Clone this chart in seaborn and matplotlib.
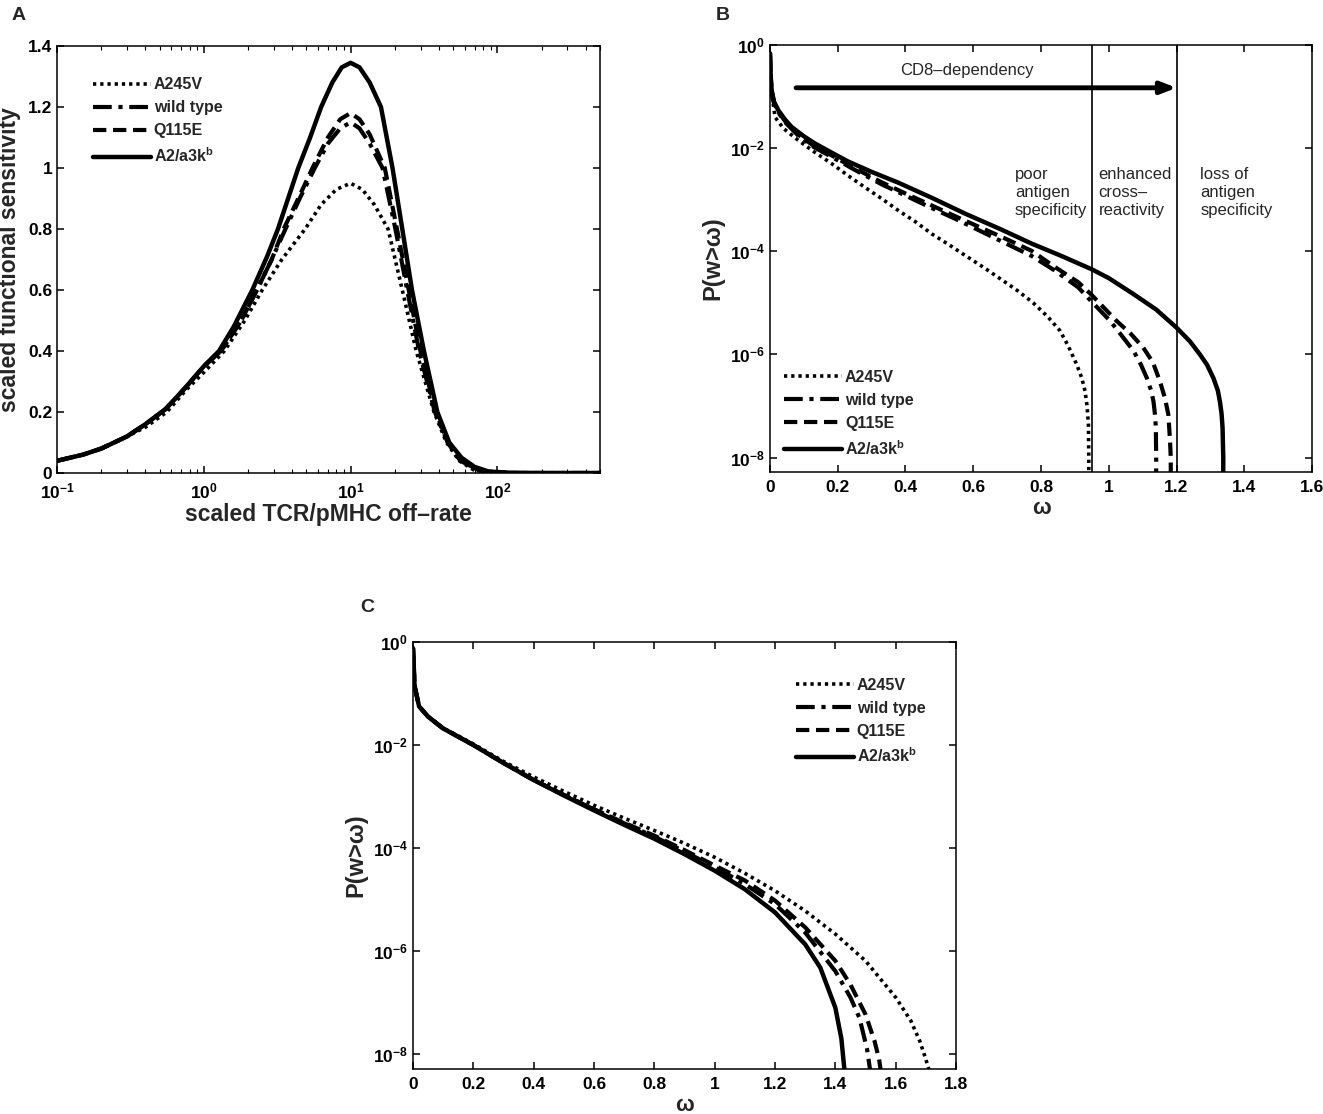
import matplotlib
matplotlib.use("Agg")
import matplotlib.pyplot as plt
from matplotlib.ticker import FuncFormatter, NullLocator, LogLocator
import numpy as np
import pandas as pd
import seaborn as sns

# ---- panel A: scaled functional sensitivity vs scaled off-rate ----
a_a245v_x = [0.1, 0.15, 0.2, 0.3, 0.4, 0.56, 0.75, 1.0, 1.38, 1.9, 2.5, 3.4, 4.9, 6.3, 8, 10,
             12, 14.5, 18, 22.5, 28, 37, 45, 55, 69, 100, 200, 500]
a_a245v_y = [0.04, 0.06, 0.08, 0.12, 0.15, 0.2, 0.27, 0.33, 0.4, 0.5, 0.6, 0.7, 0.8, 0.88, 0.93, 0.95,
             0.93, 0.88, 0.8, 0.6, 0.4, 0.2, 0.1, 0.04, 0.01, 0, 0, 0]
a_wt_x = [0.1, 0.15, 0.2, 0.3, 0.4, 0.55, 0.75, 1.0, 1.31, 1.8, 2.3, 2.9, 3.6, 4.5, 5.7, 7, 8.5, 10,
          11.5, 13.5, 16.5, 20.2, 24.3, 29.3, 37.5, 46, 56, 78, 120, 200, 500]
a_wt_y = [0.04, 0.06, 0.08, 0.12, 0.16, 0.21, 0.28, 0.35, 0.4, 0.5, 0.6, 0.7, 0.8, 0.9, 1.0, 1.08, 1.13, 1.15,
          1.13, 1.08, 1.0, 0.8, 0.6, 0.4, 0.2, 0.1, 0.04, 0.005, 0, 0, 0]
a_q115e_x = [0.1, 0.15, 0.2, 0.3, 0.4, 0.55, 0.75, 1.0, 1.31, 1.8, 2.3, 2.9, 3.5, 4.4, 5.5, 7, 8.5, 10,
             11.5, 13.5, 17.1, 20.7, 24.9, 29.9, 38, 46, 56, 78, 120, 200, 500]
a_q115e_y = [0.04, 0.06, 0.08, 0.12, 0.16, 0.21, 0.28, 0.35, 0.4, 0.5, 0.6, 0.7, 0.8, 0.9, 1.0, 1.1, 1.16, 1.18,
             1.16, 1.11, 1.0, 0.8, 0.6, 0.4, 0.2, 0.1, 0.04, 0.005, 0, 0, 0]
a_a2_x = [0.1, 0.15, 0.2, 0.3, 0.4, 0.55, 0.75, 1.0, 1.27, 1.6, 2.14, 2.7, 3.2, 4.4, 5.3, 6.3, 7.5, 8.7, 10,
          11.5, 13.5, 16.1, 19.3, 22.5, 26.2, 31.6, 39, 47, 57, 70, 87, 120, 200, 500]
a_a2_y = [0.04, 0.06, 0.08, 0.12, 0.16, 0.21, 0.28, 0.35, 0.40, 0.48, 0.60, 0.71, 0.80, 1.0, 1.10, 1.20, 1.28, 1.33, 1.345,
          1.33, 1.28, 1.20, 1.0, 0.80, 0.60, 0.40, 0.20, 0.10, 0.05, 0.02, 0.005, 0.001, 0, 0]

# ---- panel B: P(w > omega), log10 values ----
b_a245v_w = [0, 0.002, 0.005, 0.015, 0.04, 0.084, 0.13, 0.182, 0.23, 0.28, 0.33, 0.379, 0.43, 0.477, 0.53,
             0.576, 0.63, 0.679, 0.73, 0.777, 0.82, 0.856, 0.88, 0.905, 0.92, 0.93, 0.936, 0.94, 0.941, 0.941]
b_a245v_lg = [-0.16, -0.62, -0.92, -1.4, -1.62, -1.85, -2.07, -2.30, -2.53, -2.76, -2.98, -3.21, -3.43, -3.66, -3.88,
              -4.08, -4.31, -4.53, -4.76, -5.0, -5.27, -5.54, -5.83, -6.19, -6.45, -6.71, -7.0, -7.36, -8.0, -10]
b_wt_w = [0, 0.002, 0.005, 0.012, 0.025, 0.045, 0.084, 0.13, 0.182, 0.25, 0.329, 0.4, 0.477, 0.55, 0.625, 0.7,
          0.772, 0.84, 0.91, 0.95, 1.004, 1.04, 1.073, 1.095, 1.112, 1.125, 1.132, 1.137, 1.139, 1.14, 1.14]
b_wt_lg = [-0.16, -0.6, -0.9, -1.13, -1.31, -1.5, -1.76, -1.98, -2.17, -2.42, -2.7, -2.92, -3.16, -3.38, -3.62, -3.86,
           -4.09, -4.37, -4.7, -4.98, -5.35, -5.65, -5.93, -6.2, -6.45, -6.7, -6.91, -7.2, -7.43, -8.0, -10]
b_q115e_w = [0, 0.002, 0.005, 0.012, 0.025, 0.045, 0.084, 0.13, 0.182, 0.25, 0.329, 0.4, 0.477, 0.55, 0.625, 0.7,
             0.772, 0.84, 0.91, 0.95, 1.023, 1.065, 1.102, 1.13, 1.151, 1.166, 1.176, 1.181, 1.183, 1.183]
b_q115e_lg = [-0.16, -0.6, -0.9, -1.13, -1.3, -1.48, -1.74, -1.96, -2.14, -2.39, -2.66, -2.88, -3.11, -3.33, -3.55, -3.77,
              -3.99, -4.3, -4.6, -4.85, -5.35, -5.6, -5.87, -6.15, -6.52, -6.85, -7.17, -7.69, -8.0, -10]
b_a2_w = [0, 0.002, 0.005, 0.012, 0.025, 0.045, 0.064, 0.1, 0.133, 0.18, 0.231, 0.3, 0.379, 0.48, 0.576, 0.68,
          0.772, 0.86, 0.95, 1.0, 1.073, 1.14, 1.20, 1.24, 1.269, 1.29, 1.309, 1.322, 1.328, 1.333, 1.336, 1.338, 1.338]
b_a2_lg = [-0.16, -0.6, -0.88, -1.1, -1.27, -1.45, -1.59, -1.77, -1.91, -2.08, -2.26, -2.46, -2.67, -2.97, -3.27, -3.57,
           -3.85, -4.09, -4.35, -4.52, -4.83, -5.13, -5.48, -5.75, -6.0, -6.2, -6.46, -6.7, -6.91, -7.15, -7.43, -8.0, -10]

# ---- panel C: P(w > omega), log10 values ----
c_a245v_w = [0, 0.005, 0.02, 0.05, 0.1, 0.2, 0.3, 0.4, 0.5, 0.6, 0.7, 0.8, 0.9, 1.0, 1.1, 1.2, 1.3, 1.4, 1.5,
             1.6, 1.65, 1.68, 1.70, 1.71, 1.71]
c_a245v_lg = [-0.12, -0.85, -1.25, -1.45, -1.67, -1.98, -2.32, -2.62, -2.9, -3.17, -3.42, -3.66, -3.91, -4.18, -4.49,
              -4.83, -5.22, -5.67, -6.19, -6.9, -7.35, -7.75, -8.1, -8.3, -10]
c_wt_w = [0, 0.005, 0.02, 0.05, 0.1, 0.2, 0.3, 0.4, 0.5, 0.6, 0.7, 0.8, 0.9, 1.0, 1.1, 1.2, 1.3, 1.4, 1.45,
          1.48, 1.505, 1.515, 1.515]
c_wt_lg = [-0.12, -0.85, -1.25, -1.45, -1.68, -2.0, -2.35, -2.68, -2.97, -3.25, -3.52, -3.78, -4.07, -4.37, -4.7,
           -5.09, -5.64, -6.39, -6.9, -7.3, -7.9, -8.3, -10]
c_q115e_w = [0, 0.005, 0.02, 0.05, 0.1, 0.2, 0.3, 0.4, 0.5, 0.6, 0.7, 0.8, 0.9, 1.0, 1.1, 1.2, 1.3, 1.4, 1.45,
             1.5, 1.53, 1.545, 1.55, 1.55]
c_q115e_lg = [-0.12, -0.85, -1.25, -1.45, -1.68, -2.0, -2.35, -2.68, -2.97, -3.25, -3.51, -3.76, -4.04, -4.34, -4.63,
              -5.02, -5.54, -6.19, -6.65, -7.23, -7.75, -8.1, -8.3, -10]
c_a2_w = [0, 0.005, 0.02, 0.05, 0.1, 0.2, 0.3, 0.4, 0.5, 0.6, 0.7, 0.8, 0.9, 1.0, 1.1, 1.2, 1.3, 1.35, 1.4,
          1.42, 1.43, 1.43]
c_a2_lg = [-0.12, -0.85, -1.25, -1.45, -1.68, -2.0, -2.35, -2.68, -2.98, -3.27, -3.55, -3.82, -4.12, -4.44, -4.8,
           -5.25, -5.87, -6.32, -7.1, -7.7, -8.3, -10]

series_names = ["A245V", "wild type", "Q115E", "A2/a3k$^\\mathrm{b}$"]
log_ticks = [1e0, 1e-2, 1e-4, 1e-6, 1e-8]
b_xticks = [0, 0.2, 0.4, 0.6, 0.8, 1.0, 1.2, 1.4, 1.6]
c_xticks = [0, 0.2, 0.4, 0.6, 0.8, 1.0, 1.2, 1.4, 1.6, 1.8]
a_yticks = [0, 0.2, 0.4, 0.6, 0.8, 1.0, 1.2, 1.4]
b_regions = [0.95, 1.2]

sns.set_style("ticks")
plt.rcParams["font.family"] = ["Liberation Sans", "DejaVu Sans"]
plt.rcParams["font.weight"] = "bold"
plt.rcParams["axes.labelweight"] = "bold"
plt.rcParams["mathtext.fontset"] = "custom"
plt.rcParams["mathtext.rm"] = "Liberation Sans:bold"
plt.rcParams["mathtext.it"] = "Liberation Sans:bold:italic"
plt.rcParams["mathtext.bf"] = "Liberation Sans:bold"
plt.rcParams["axes.unicode_minus"] = True

line_styles = {
    "A245V": dict(linestyle=(0, (0.9, 1.1)), lw=2.6),
    "wild type": dict(linestyle=(0, (4.5, 1.6, 1.0, 1.6)), lw=3.0),
    "Q115E": dict(linestyle=(0, (3.2, 1.6)), lw=3.0),
    "A2/a3k$^\\mathrm{b}$": dict(linestyle="-", lw=3.2),
}


def draw_series(ax, xs, ys, names):
    for x, y, name in zip(xs, ys, names):
        df = pd.DataFrame({"x": x, "y": y})
        sns.lineplot(data=df, x="x", y="y", ax=ax, color="black", sort=False,
                     estimator=None, label=name, **line_styles[name])


def style_axes(ax):
    for s in ax.spines.values():
        s.set_linewidth(1.1)
        s.set_color("black")
    ax.tick_params(which="both", direction="in", top=True, right=True, colors="black",
                   labelsize=12.5)
    ax.tick_params(which="major", length=5, width=1.1)
    ax.tick_params(which="minor", length=3, width=0.8)
    ax.tick_params(axis="x", which="both", pad=6)


def add_legend(ax, **kw):
    ax.legend(frameon=False, handlelength=3.6, handletextpad=0.2, labelspacing=0.5,
              prop=dict(size=11.5, weight="bold"), **kw)


fmt_g = FuncFormatter(lambda v, p: f"{v:g}")

fig = plt.figure(figsize=(13.23, 11.14), dpi=100)
ax_a = fig.add_axes([0.0431, 0.5754, 0.4104, 0.3833])
ax_b = fig.add_axes([0.5820, 0.5763, 0.4097, 0.3833])
ax_c = fig.add_axes([0.3122, 0.0404, 0.4104, 0.3833])

# panel A
draw_series(ax_a, [a_a245v_x, a_wt_x, a_q115e_x, a_a2_x],
            [a_a245v_y, a_wt_y, a_q115e_y, a_a2_y], series_names)
ax_a.set_xscale("log")
ax_a.set_xlim(0.1, 500)
ax_a.set_ylim(0, 1.4)
ax_a.set_yticks(a_yticks)
ax_a.yaxis.set_major_formatter(fmt_g)
ax_a.xaxis.set_minor_locator(LogLocator(base=10, subs=np.arange(2, 10)))
ax_a.set_xlabel("scaled TCR/pMHC off\u2013rate", fontsize=16.5, labelpad=1)
ax_a.set_ylabel("scaled functional sensitivity", fontsize=16.5, labelpad=5)
style_axes(ax_a)
add_legend(ax_a, loc="upper left", bbox_to_anchor=(0.04, 0.96))

# panel B
draw_series(ax_b, [b_a245v_w, b_wt_w, b_q115e_w, b_a2_w],
            [10 ** np.array(b_a245v_lg), 10 ** np.array(b_wt_lg),
             10 ** np.array(b_q115e_lg), 10 ** np.array(b_a2_lg)], series_names)
for xv in b_regions:
    ax_b.axvline(xv, color="black", lw=1.2, zorder=1)
ax_b.set_yscale("log")
ax_b.set_xlim(0, 1.6)
ax_b.set_ylim(10 ** -8.28, 1)
ax_b.set_yticks(log_ticks)
ax_b.yaxis.set_minor_locator(NullLocator())
ax_b.set_xticks(b_xticks)
ax_b.xaxis.set_major_formatter(fmt_g)
ax_b.set_xlabel("\u03c9", fontsize=16, labelpad=2)
ax_b.set_ylabel("P(w>\u03c9)", fontsize=17, labelpad=4)
style_axes(ax_b)
ax_b.annotate("", xy=(1.2, 10 ** -0.83), xytext=(0.077, 10 ** -0.83),
              arrowprops=dict(arrowstyle="-|>,head_length=0.9,head_width=0.35", lw=3.5,
                              color="black", shrinkA=0, shrinkB=0))
ax_b.text(0.58, 10 ** -0.49, "CD8\u2013dependency", ha="center", va="center",
          fontsize=12, fontweight="normal")
region_texts = {0.723: "poor\nantigen\nspecificity",
                0.970: "enhanced\ncross\u2013\nreactivity",
                1.27: "loss of\nantigen\nspecificity"}
for xv, txt in region_texts.items():
    ax_b.text(xv, 10 ** -2.36, txt, ha="left", va="top", fontsize=12,
              fontweight="normal", linespacing=1.25)
add_legend(ax_b, loc="lower left", bbox_to_anchor=(0.0, 0.0))

# panel C
draw_series(ax_c, [c_a245v_w, c_wt_w, c_q115e_w, c_a2_w],
            [10 ** np.array(c_a245v_lg), 10 ** np.array(c_wt_lg),
             10 ** np.array(c_q115e_lg), 10 ** np.array(c_a2_lg)], series_names)
ax_c.set_yscale("log")
ax_c.set_xlim(0, 1.8)
ax_c.set_ylim(10 ** -8.29, 1)
ax_c.set_yticks(log_ticks)
ax_c.yaxis.set_minor_locator(NullLocator())
ax_c.set_xticks(c_xticks)
ax_c.xaxis.set_major_formatter(fmt_g)
ax_c.set_xlabel("\u03c9", fontsize=16, labelpad=2)
ax_c.set_ylabel("P(w>\u03c9)", fontsize=17, labelpad=4)
style_axes(ax_c)
add_legend(ax_c, loc="upper right", bbox_to_anchor=(0.97, 0.95))

fig.text(12 / 1323, 1 - 16 / 1114, "A", fontsize=14, fontweight="bold", va="center")
fig.text(716 / 1323, 1 - 16 / 1114, "B", fontsize=14, fontweight="bold", va="center")
fig.text(360 / 1323, 1 - 607 / 1114, "C", fontsize=14, fontweight="bold", va="center")

fig.savefig("out.png", dpi=100, facecolor="white")
